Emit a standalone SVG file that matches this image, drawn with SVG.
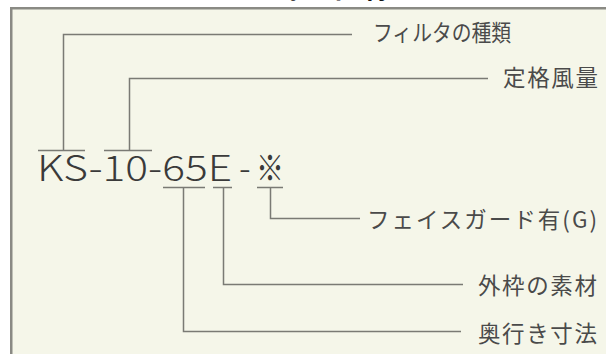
<svg xmlns="http://www.w3.org/2000/svg" width="606" height="354" viewBox="0 0 606 354">
<style>
.frame{fill:#f5f6e9;stroke:#8a8a84;stroke-width:2.5}
.ln{fill:none;stroke:#7a7a74;stroke-width:1.5}
.lbl{font-family:"Noto Sans CJK JP","Noto Sans",sans-serif;font-size:22.5px;fill:#4a4a4a}
.code{font-family:"Noto Sans CJK JP","Noto Sans",sans-serif;font-size:35px;font-weight:300;fill:#3a3a3a}
.title{font-family:"Noto Sans CJK JP",sans-serif;font-size:30px;font-weight:bold;fill:#111}
</style>
<rect x="0" y="0" width="606" height="354" fill="#ffffff"/>
<text class="title" x="205" y="-3" textLength="220" lengthAdjust="spacing">【型式の仕様】</text>
<rect class="frame" x="11.25" y="8.25" width="620" height="360"/>
<g id="code">
<text class="code" x="37" y="181" textLength="195" lengthAdjust="spacingAndGlyphs">KS-10-65E</text>
<text class="code" x="239" y="181">-</text>
<text class="code" x="256" y="181" textLength="28" lengthAdjust="spacingAndGlyphs">※</text>
</g>
<g id="connectors">
<path class="ln" d="M38 150.5H85M63.5 150.5V34.5H352"/>
<path class="ln" d="M104 150.5H152M129.5 150.5V78.5H488"/>
<path class="ln" d="M163 187.5H205M183.5 187.5V331.5H461"/>
<path class="ln" d="M213 187.5H232M223.5 187.5V284.5H463"/>
<path class="ln" d="M257 187.5H283M270.5 187.5V218.5H360"/>
</g>
<g id="n1"><text class="lbl" x="373" y="41" textLength="138" lengthAdjust="spacingAndGlyphs">フィルタの種類</text></g>
<g id="n2"><text class="lbl" x="503" y="86" textLength="95" lengthAdjust="spacing">定格風量</text></g>
<g id="n3"><text class="lbl" x="367" y="228" textLength="230" lengthAdjust="spacing">フェイスガード有(G)</text></g>
<g id="n4"><text class="lbl" x="478" y="294" textLength="119" lengthAdjust="spacing">外枠の素材</text></g>
<g id="n5"><text class="lbl" x="478" y="342" textLength="119" lengthAdjust="spacing">奥行き寸法</text></g>
</svg>
